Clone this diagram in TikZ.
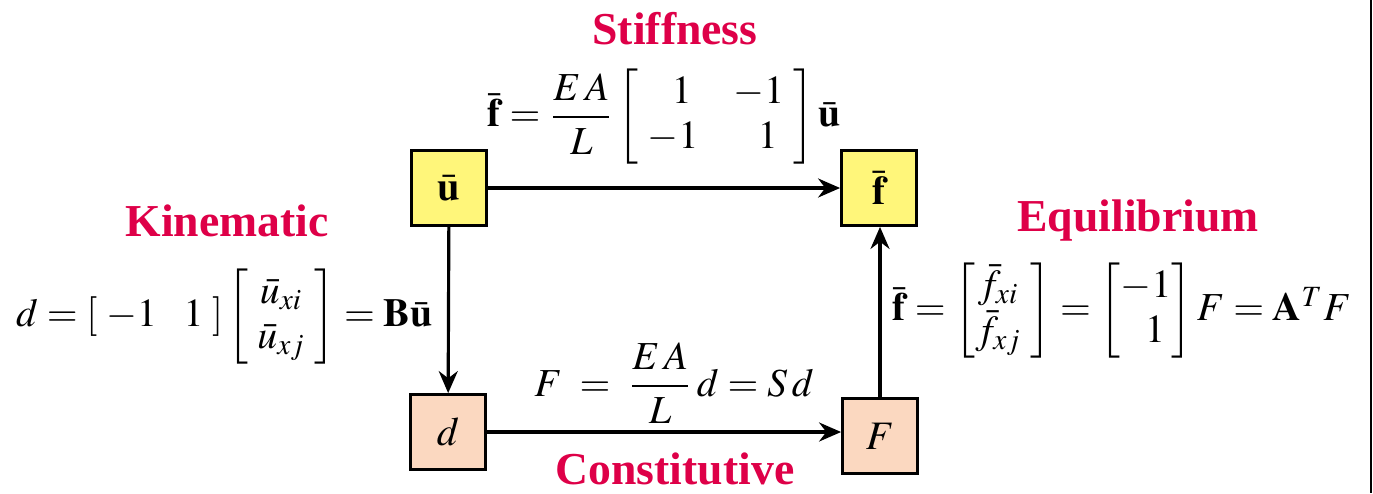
\documentclass[tikz,border=0pt]{standalone}
\usepackage{amsmath}
\usepackage{mathptmx}
\usepackage{fontspec}
\setmainfont{Liberation Serif}
\usetikzlibrary{arrows.meta}
\definecolor{headred}{RGB}{222,0,72}
\definecolor{boxyellow}{RGB}{255,246,122}
\definecolor{boxpeach}{RGB}{251,216,192}
\tikzset{
  varbox/.style={draw, thick, minimum size=7.5mm, inner sep=0pt, font=\fontsize{11.5}{13}\selectfont},
  head/.style={text=headred, font=\fontsize{13}{15}\selectfont\bfseries},
  eqn/.style={inner sep=0pt, font=\fontsize{11.3}{13}\selectfont},
  link/.style={-{Stealth[length=2.2mm, width=1.9mm]}, line width=0.9pt}
}
\begin{document}
\begin{tikzpicture}[x=0.1mm, y=-0.1mm]
      \useasboundingbox (0,0) rectangle (1373,493);
      % Right frame edge
      \draw[line width=0.6pt] (1371,0) -- (1371,493);

      % Variable boxes
      \node[varbox, fill=boxyellow] (ubar) at (449,188) {$\bar{\mathbf{u}}$};
      \node[varbox, fill=boxyellow] (fbar) at (879,188) {$\bar{\mathbf{f}}$};
      \node[varbox, fill=boxpeach] (dd) at (448,432) {$d$};
      \node[varbox, fill=boxpeach] (FF) at (880,436) {$F$};

      % Connectors
      \draw[link] (ubar) -- (fbar);
      \draw[link] (ubar) -- (dd);
      \draw[link] (dd.east) -- (dd.east -| FF.west);
      \draw[link] (FF) -- (FF |- fbar.south);

      % Headings
      \node[head] (stiff) at (675,29) {Stiffness};
      \node[head] (kinem) at (227,221) {Kinematic};
      \node[head] (equil) at (1138,221) {Equilibrium};
      \node[head] (const) at (675,469) {Constitutive};

      % Relations
      \node[eqn] (stiffeq) at (664,117)
        {$\displaystyle \bar{\mathbf{f}} = \frac{E\,A}{L}
          \begin{bmatrix} \;\;\;1 & -1\; \\ \;-1 & \;\;1\; \end{bmatrix}\bar{\mathbf{u}}$};
      \node[eqn, anchor=east] (kinemeq) at (433,317)
        {$d = [\;-1\;\;\;1\;]
          \begin{bmatrix} \;\bar{u}_{xi}\; \\ \;\bar{u}_{xj}\; \end{bmatrix} = \mathbf{B}\bar{\mathbf{u}}$};
      \node[eqn, anchor=west] (equileq) at (892,311)
        {$\bar{\mathbf{f}} = \begin{bmatrix} \bar{f}_{xi}\; \\ \bar{f}_{xj}\; \end{bmatrix}
          = \begin{bmatrix} -1 \\ \;\;1 \end{bmatrix} F = \mathbf{A}^{T}F$};
      \node[eqn] (consteq) at (674,383)
        {$\displaystyle F \;=\; \frac{E\,A}{L}\, d = S\,d$};
    \end{tikzpicture}
\end{document}
